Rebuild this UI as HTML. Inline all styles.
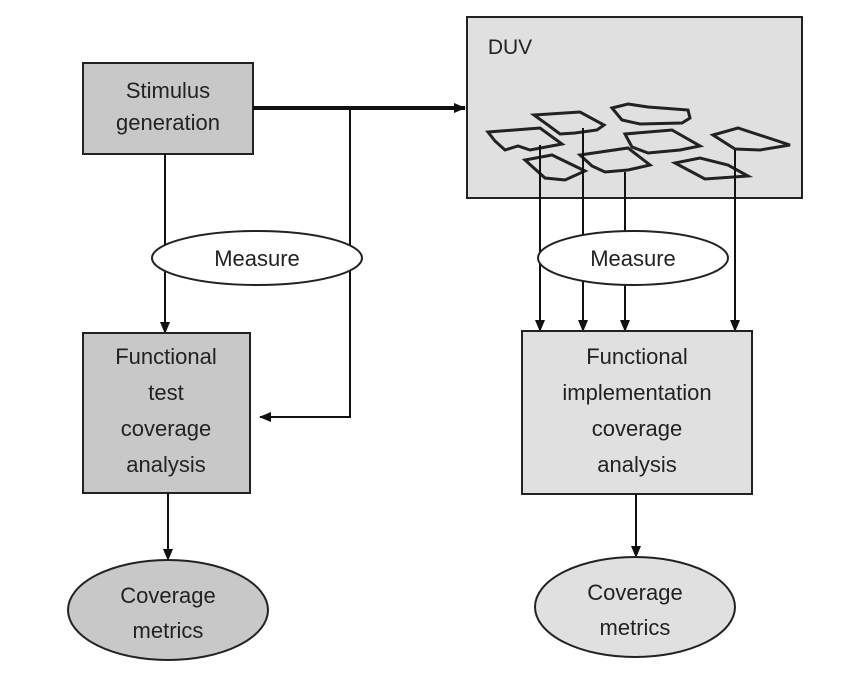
<!DOCTYPE html>
<html><head><style>
body{margin:0;background:#fff}
svg{display:block}
text{font-family:"Liberation Sans",sans-serif;font-size:22px;fill:#222;text-anchor:middle}
</style></head><body>
<svg width="868" height="690" viewBox="0 0 868 690">
<defs><marker id="a" markerWidth="12" markerHeight="12" refX="11" refY="6" orient="auto" markerUnits="userSpaceOnUse"><path d="M0,1 L12,6 L0,11 z" fill="#111"/></marker></defs>
<rect x="83" y="63" width="170" height="91" fill="#c8c8c8" stroke="#222" stroke-width="2"/>
<text x="168" y="98">Stimulus</text><text x="168" y="130">generation</text>
<line x1="253" y1="108" x2="465" y2="108" stroke="#111" stroke-width="4" marker-end="url(#a)"/>
<polyline points="350,108 350,417 260,417" fill="none" stroke="#111" stroke-width="2" marker-end="url(#a)"/>
<line x1="165" y1="154" x2="165" y2="333" stroke="#111" stroke-width="2" marker-end="url(#a)"/>
<ellipse cx="257" cy="258" rx="105" ry="27" fill="#fff" stroke="#222" stroke-width="2"/>
<text x="257" y="266">Measure</text>
<rect x="83" y="333" width="167" height="160" fill="#c8c8c8" stroke="#222" stroke-width="2"/>
<text x="166" y="364">Functional</text><text x="166" y="400">test</text><text x="166" y="436">coverage</text><text x="166" y="472">analysis</text>
<line x1="168" y1="493" x2="168" y2="560" stroke="#111" stroke-width="2" marker-end="url(#a)"/>
<ellipse cx="168" cy="610" rx="100" ry="50" fill="#c8c8c8" stroke="#222" stroke-width="2"/>
<text x="168" y="603">Coverage</text><text x="168" y="638">metrics</text>
<rect x="467" y="17" width="335" height="181" fill="#e0e0e0" stroke="#222" stroke-width="2"/>
<text x="510" y="54" style="font-size:21px">DUV</text>
<g fill="none" stroke="#222" stroke-width="3">
<path d="M488,132 L540,128 L562,144 L530,150 L518,146 L505,150 L495,141 z"/>
<path d="M534,115 L580,112 L604,125 L597,130 L575,133 L560,134 L552,128 z"/>
<path d="M612,108 L628,104 L648,107 L688,110 L690,118 L682,123 L640,124 L622,120 z"/>
<path d="M625,134 L672,130 L700,146 L680,150 L648,153 L632,147 z"/>
<path d="M713,135 L738,128 L790,145 L760,150 L735,149 z"/>
<path d="M525,160 L552,155 L585,171 L565,180 L545,178 z"/>
<path d="M580,155 L628,148 L650,165 L628,170 L605,172 L592,166 z"/>
<path d="M675,163 L700,158 L728,165 L748,176 L705,179 z"/>
</g>
<g stroke="#111" stroke-width="2">
<line x1="540" y1="145" x2="540" y2="331" marker-end="url(#a)"/>
<line x1="583" y1="128" x2="583" y2="331" marker-end="url(#a)"/>
<line x1="625" y1="172" x2="625" y2="331" marker-end="url(#a)"/>
<line x1="735" y1="148" x2="735" y2="331" marker-end="url(#a)"/>
</g>
<ellipse cx="633" cy="258" rx="95" ry="27" fill="#fff" stroke="#222" stroke-width="2"/>
<text x="633" y="266">Measure</text>
<rect x="522" y="331" width="230" height="163" fill="#e0e0e0" stroke="#222" stroke-width="2"/>
<text x="637" y="364">Functional</text><text x="637" y="400">implementation</text><text x="637" y="436">coverage</text><text x="637" y="472">analysis</text>
<line x1="636" y1="494" x2="636" y2="557" stroke="#111" stroke-width="2" marker-end="url(#a)"/>
<ellipse cx="635" cy="607" rx="100" ry="50" fill="#e0e0e0" stroke="#222" stroke-width="2"/>
<text x="635" y="600">Coverage</text><text x="635" y="635">metrics</text>
</svg>
</body></html>
